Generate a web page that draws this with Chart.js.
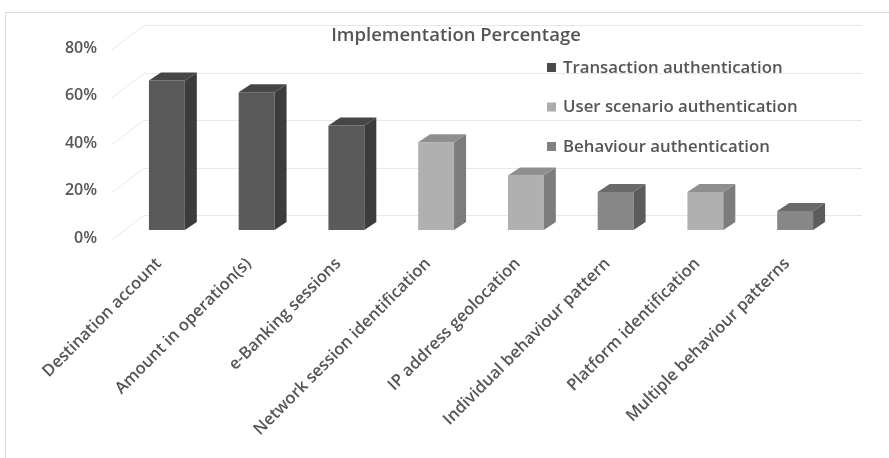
<!DOCTYPE html>
<html><head><meta charset="utf-8">
<script src="https://cdn.jsdelivr.net/npm/chart.js@4"></script>
<style>html,body{margin:0;padding:0;background:#fff}#wrap{width:889px;height:458px;position:relative}</style>
</head><body><div id="wrap"><canvas id="c" width="889" height="458"></canvas></div>
<script>
const chartTitle = 'Implementation Percentage';
const categories = ['Destination account','Amount in operation(s)','e-Banking sessions','Network session identification','IP address geolocation','Individual behaviour pattern','Platform identification','Multiple behaviour patterns'];
const seriesNames = ['Transaction authentication','User scenario authentication','Behaviour authentication'];
const transactionValues = [63, 58, 44, null, null, null, null, null];
const userScenarioValues = [null, null, null, 37, 23, null, 16, null];
const behaviourValues = [null, null, null, null, null, 16, null, 8];
const yTickValues = [0, 20, 40, 60, 80];

const TXT = '#555555';
const FONT = "'Open Sans', sans-serif";
const DX = 12, DY = 8;

const styles = [
  {front:'#5a5a5a', side:'#3c3c3c', top:'#464646', key:'#4a4a4a'},
  {front:'#b0b0b0', side:'#7c7c7c', top:'#8e8e8e', key:'#ababab'},
  {front:'#878787', side:'#5c5c5c', top:'#6a6a6a', key:'#808080'}
];
const seriesValues = [transactionValues, userScenarioValues, behaviourValues];

const wallPlugin = {
  id: 'wall',
  beforeDatasetsDraw(chart) {
    const {ctx, chartArea: a, scales: {y}} = chart;
    ctx.save();
    ctx.strokeStyle = '#dcdcdc';
    ctx.lineWidth = 1;
    ctx.beginPath();
    ctx.moveTo(5, 12.5); ctx.lineTo(889, 12.5);
    ctx.moveTo(5.5, 12); ctx.lineTo(5.5, 458);
    ctx.stroke();
    ctx.strokeStyle = '#e8e8e8';
    ctx.beginPath();
    yTickValues.forEach(v => {
      const yb = Math.round(y.getPixelForValue(v)) + 0.5;
      ctx.moveTo(a.left - 10, yb + 9);
      ctx.lineTo(a.left + 22, yb - 15);
      ctx.lineTo(a.right + 22, yb - 15);
    });
    ctx.stroke();
    ctx.restore();
  }
};

const bar3dPlugin = {
  id: 'bar3d',
  afterDatasetsDraw(chart) {
    const ctx = chart.ctx;
    ctx.save();
    chart.data.datasets.forEach((ds, di) => {
      const meta = chart.getDatasetMeta(di);
      meta.data.forEach((el, i) => {
        if (ds.data[i] == null) return;
        const {x, y, base, width} = el.getProps(['x','y','base','width'], true);
        const l = x - width / 2, r = x + width / 2;
        ctx.fillStyle = styles[di].side;
        ctx.beginPath();
        ctx.moveTo(r, y); ctx.lineTo(r + DX, y - DY); ctx.lineTo(r + DX, base - DY); ctx.lineTo(r, base);
        ctx.closePath(); ctx.fill();
        ctx.fillStyle = styles[di].top;
        ctx.beginPath();
        ctx.moveTo(l, y); ctx.lineTo(l + DX, y - DY); ctx.lineTo(r + DX, y - DY); ctx.lineTo(r, y);
        ctx.closePath(); ctx.fill();
      });
    });
    ctx.restore();
  }
};

const textPlugin = {
  id: 'texts',
  afterDraw(chart) {
    const ctx = chart.ctx;
    ctx.save();
    ctx.fillStyle = TXT;
    ctx.font = `600 18.5px ${FONT}`;
    ctx.textAlign = 'center';
    ctx.textBaseline = 'middle';
    ctx.fillText(chartTitle, 456, 36);
    ctx.font = `600 16.8px ${FONT}`;
    ctx.textAlign = 'left';
    chart.data.datasets.forEach((ds, i) => {
      const yy = 68 + i * 39.5;
      ctx.fillStyle = styles[i].key;
      ctx.fillRect(547, yy - 5, 9, 9);
      ctx.fillStyle = TXT;
      ctx.fillText(ds.label, 563, yy);
    });
    ctx.restore();
  }
};

new Chart(document.getElementById('c'), {
  type: 'bar',
  data: {
    labels: categories,
    datasets: seriesNames.map((n, i) => ({
      label: n,
      data: seriesValues[i],
      backgroundColor: styles[i].front,
      grouped: false,
      barPercentage: 0.4,
      categoryPercentage: 1
    }))
  },
  options: {
    responsive: false,
    devicePixelRatio: 1,
    animation: false,
    layout: {padding: {top: 40, right: 49, left: 0, bottom: 0}},
    plugins: {legend: {display: false}, title: {display: false}, tooltip: {enabled: false}},
    scales: {
      x: {
        grid: {display: false, drawTicks: false}, border: {display: false},
        ticks: {minRotation: 45, maxRotation: 45, autoSkip: false, labelOffset: -8, padding: 24,
          color: TXT, font: {family: FONT, size: 16.5, weight: '600'}},
        afterFit(s) { s.height = 228; }
      },
      y: {
        min: 0, max: 80,
        grid: {display: false, drawTicks: false}, border: {display: false},
        afterBuildTicks(s) { s.ticks = yTickValues.map(v => ({value: v})); },
        ticks: {padding: 25, labelOffset: 8, color: TXT, font: {family: FONT, size: 16, weight: '600'},
          callback: v => v + '%'},
        afterFit(s) { s.width = 122; }
      }
    }
  },
  plugins: [wallPlugin, bar3dPlugin, textPlugin]
});
</script></body></html>
